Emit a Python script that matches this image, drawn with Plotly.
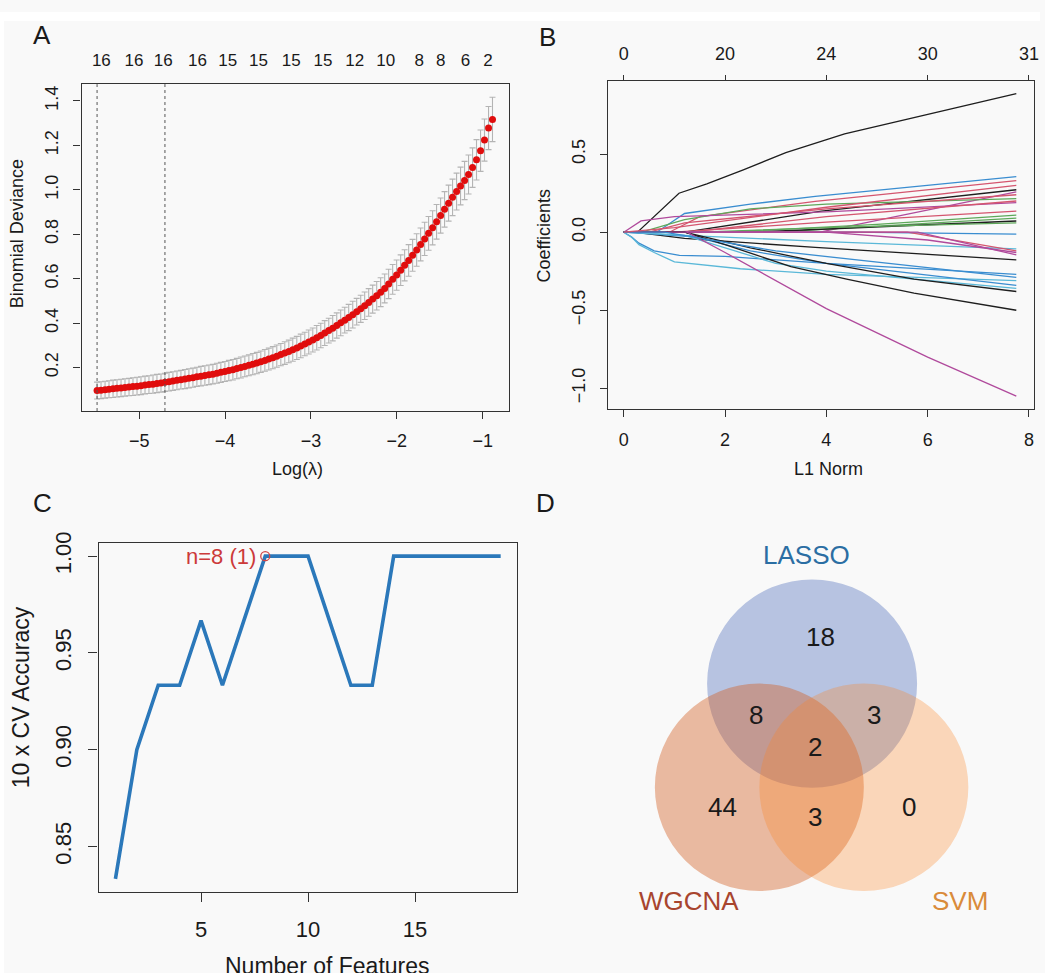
import plotly.graph_objects as go

W, H = 1045, 973
FONT = "Liberation Sans, Arial, sans-serif"
BG = "#f9f9f9"

# ---------------- Panel A data (cv.glmnet) ----------------
log_lambda = [-5.490, -5.444, -5.397, -5.351, -5.304, -5.258, -5.211, -5.165, -5.118, -5.072,
              -5.025, -4.979, -4.932, -4.886, -4.839, -4.793, -4.746, -4.700, -4.653, -4.607,
              -4.560, -4.514, -4.467, -4.421, -4.374, -4.328, -4.281, -4.235, -4.188, -4.142,
              -4.095, -4.049, -4.002, -3.956, -3.909, -3.863, -3.816, -3.770, -3.723, -3.677,
              -3.630, -3.584, -3.537, -3.491, -3.444, -3.398, -3.351, -3.305, -3.258, -3.212,
              -3.165, -3.119, -3.072, -3.026, -2.979, -2.933, -2.886, -2.840, -2.793, -2.747,
              -2.700, -2.654, -2.607, -2.561, -2.514, -2.468, -2.421, -2.375, -2.328, -2.282,
              -2.235, -2.189, -2.142, -2.096, -2.049, -2.003, -1.956, -1.910, -1.863, -1.817,
              -1.770, -1.724, -1.677, -1.631, -1.584, -1.538, -1.491, -1.445, -1.398, -1.352,
              -1.305, -1.259, -1.212, -1.166, -1.119, -1.073, -1.026, -0.980, -0.933, -0.887]
deviance = [0.096, 0.098, 0.100, 0.102, 0.104, 0.106, 0.108, 0.110, 0.112, 0.114,
            0.116, 0.118, 0.121, 0.123, 0.125, 0.128, 0.130, 0.133, 0.136, 0.139,
            0.142, 0.145, 0.148, 0.151, 0.154, 0.158, 0.161, 0.164, 0.167, 0.170,
            0.174, 0.178, 0.182, 0.186, 0.190, 0.195, 0.200, 0.205, 0.210, 0.215,
            0.220, 0.226, 0.232, 0.238, 0.244, 0.251, 0.258, 0.265, 0.272, 0.280,
            0.288, 0.297, 0.306, 0.315, 0.324, 0.334, 0.344, 0.355, 0.366, 0.377,
            0.389, 0.401, 0.413, 0.425, 0.438, 0.451, 0.464, 0.478, 0.493, 0.508,
            0.523, 0.539, 0.556, 0.576, 0.597, 0.616, 0.638, 0.660, 0.682, 0.705,
            0.729, 0.754, 0.779, 0.804, 0.829, 0.856, 0.884, 0.912, 0.940, 0.966,
            0.992, 1.017, 1.042, 1.069, 1.100, 1.135, 1.176, 1.224, 1.278, 1.317]
deviance_sd = [0.038, 0.038, 0.038, 0.038, 0.039, 0.039, 0.039, 0.039, 0.039, 0.040,
               0.040, 0.040, 0.040, 0.040, 0.041, 0.041, 0.041, 0.041, 0.042, 0.042,
               0.042, 0.042, 0.043, 0.043, 0.043, 0.043, 0.044, 0.044, 0.044, 0.044,
               0.045, 0.045, 0.045, 0.046, 0.046, 0.046, 0.047, 0.047, 0.047, 0.048,
               0.048, 0.048, 0.049, 0.049, 0.050, 0.050, 0.050, 0.051, 0.051, 0.052,
               0.052, 0.053, 0.053, 0.054, 0.054, 0.055, 0.055, 0.056, 0.056, 0.057,
               0.057, 0.058, 0.058, 0.059, 0.060, 0.060, 0.061, 0.062, 0.062, 0.063,
               0.064, 0.065, 0.065, 0.066, 0.067, 0.068, 0.069, 0.070, 0.071, 0.072,
               0.073, 0.074, 0.075, 0.076, 0.077, 0.078, 0.079, 0.080, 0.081, 0.082,
               0.083, 0.085, 0.086, 0.088, 0.089, 0.091, 0.093, 0.095, 0.097, 0.100]
lambda_min_log = -5.490
lambda_1se_log = -4.700
top_a_x = [-5.44, -5.06, -4.72, -4.32, -3.97, -3.61, -3.23, -2.86, -2.49, -2.13, -1.74, -1.49, -1.20, -0.94]
top_a_labels = ["16", "16", "16", "16", "15", "15", "15", "15", "12", "10", "8", "8", "6", "2"]

# ---------------- Panel B data (coefficient paths) ----------------
K, R, G, B, C, M = "#1e1e1e", "#d4566f", "#5ea85a", "#3a8dd0", "#5ab8d8", "#b04a9c"
path_colors = [K, B, R, K, M, G, R, M, R, R, G, G, K, G, B, C, R, M, M, K, B, C, B, C, K, K, M, B, R]
path_x = [
    [0, 0.27, 1.09, 1.64, 2.36, 3.2, 4.36, 7.75],
    [0, 0.65, 1.2, 2.5, 3.78, 7.75],
    [0, 0.9, 1.5, 3.78, 7.75],
    [0, 1.2, 3.9, 7.75],
    [0, 3.87, 7.75],
    [0, 0.35, 1.2, 2.5, 4.0, 7.75],
    [0, 0.5, 1.2, 4.0, 7.75],
    [0, 0.34, 1.0, 4.0, 7.75],
    [0, 1.3, 4.0, 7.75],
    [0, 1.0, 4.0, 7.75],
    [0, 2.0, 5.0, 7.75],
    [0, 3.0, 7.75],
    [0, 2.5, 7.75],
    [0, 1.5, 4.0, 7.75],
    [0, 4.5, 7.75],
    [0, 1.2, 4.0, 7.75],
    [0, 5.6, 7.75],
    [0, 4.0, 6.0, 7.75],
    [0, 5.8, 7.75],
    [0, 0.2, 1.2, 3.78, 7.75],
    [0, 0.15, 0.3, 0.6, 1.1, 2.0, 4.0, 7.75],
    [0, 0.15, 0.3, 0.6, 1.0, 2.3, 4.0, 7.75],
    [0, 1.4, 2.5, 4.0, 7.75],
    [0, 1.2, 3.0, 4.0, 7.75],
    [0, 1.2, 2.5, 4.0, 5.73, 7.75],
    [0, 1.2, 2.0, 3.3, 4.4, 5.73, 7.75],
    [0, 1.25, 2.0, 4.0, 6.0, 7.75],
    [0, 0.8, 3.0, 7.75],
    [0, 1.0, 4.0, 7.75],
]
path_y = [
    [0, 0, 0.25, 0.31, 0.40, 0.51, 0.63, 0.888],
    [0, 0, 0.12, 0.18, 0.23, 0.356],
    [0, 0, 0.10, 0.198, 0.331],
    [0, 0, 0.135, 0.272],
    [0, 0, 0.258],
    [0, 0, 0.08, 0.15, 0.18, 0.215],
    [0, 0, 0.06, 0.15, 0.24],
    [0, 0.072, 0.10, 0.13, 0.19],
    [0, 0, 0.10, 0.20],
    [0, 0, 0.065, 0.135],
    [0, 0, 0.05, 0.11],
    [0, 0, 0.09],
    [0, 0, 0.072],
    [0, 0, 0.03, 0.06],
    [0, 0, -0.012],
    [0, -0.02, -0.06, -0.107],
    [0, 0, -0.12],
    [0, 0, -0.05, -0.13],
    [0, 0, -0.145],
    [0, 0, -0.04, -0.097, -0.177],
    [0, -0.03, -0.07, -0.12, -0.148, -0.155, -0.20, -0.27],
    [0, -0.03, -0.08, -0.13, -0.19, -0.234, -0.27, -0.31],
    [0, -0.03, -0.12, -0.20, -0.34],
    [0, -0.02, -0.20, -0.25, -0.36],
    [0, 0, -0.10, -0.20, -0.30, -0.38],
    [0, 0, -0.08, -0.22, -0.30, -0.39, -0.50],
    [0, 0, -0.13, -0.49, -0.80, -1.05],
    [0, 0, -0.12, -0.29],
    [0, 0.03, 0.16, 0.30],
]
top_b_x = [0, 2, 4, 6, 8]
top_b_labels = ["0", "20", "24", "30", "31"]

# ---------------- Panel C data (SVM-RFE) ----------------
n_features = [1, 2, 3, 4, 5, 6, 7, 8, 9, 10, 11, 12, 13, 14, 15, 16, 17, 18, 19]
cv_accuracy = [0.8333, 0.9000, 0.9333, 0.9333, 0.9667, 0.9333, 0.9667, 1.0000, 1.0000, 1.0000,
               0.9667, 0.9333, 0.9333, 1.0000, 1.0000, 1.0000, 1.0000, 1.0000, 1.0000]
best_n = 8
best_label = "n=8 (1)"

# ---------------- Panel D data (Venn) ----------------
venn_sets = ["LASSO", "WGCNA", "SVM"]
venn_regions = ["LASSO", "LASSO&WGCNA", "LASSO&SVM", "ALL", "WGCNA", "WGCNA&SVM", "SVM"]
venn_counts = [18, 8, 3, 2, 44, 3, 0]


def px(x):
    return x / W


def py(y):
    return 1 - y / H


fig = go.Figure()

# Panel A
fig.add_trace(go.Scatter(
    x=log_lambda, y=deviance, mode="markers",
    marker=dict(color="#e00d0d", size=7, line=dict(width=0)),
    error_y=dict(type="data", array=deviance_sd, color="#b4b4b4", thickness=1.1, width=3),
    xaxis="x", yaxis="y", showlegend=False, hoverinfo="skip"))
fig.add_trace(go.Scatter(x=top_a_x, y=[None] * len(top_a_x), mode="markers",
                         xaxis="x2", yaxis="y", showlegend=False, hoverinfo="skip"))

# Panel B
for cx, cy, col in zip(path_x, path_y, path_colors):
    fig.add_trace(go.Scatter(x=cx, y=cy, mode="lines", line=dict(color=col, width=1.3),
                             xaxis="x3", yaxis="y2", showlegend=False, hoverinfo="skip"))
fig.add_trace(go.Scatter(x=top_b_x, y=[None] * len(top_b_x), mode="markers",
                         xaxis="x4", yaxis="y2", showlegend=False, hoverinfo="skip"))

# Panel C
fig.add_trace(go.Scatter(x=n_features, y=cv_accuracy, mode="lines",
                         line=dict(color="#2b78ba", width=3.6),
                         xaxis="x5", yaxis="y3", showlegend=False, hoverinfo="skip"))
fig.add_trace(go.Scatter(x=[best_n], y=[cv_accuracy[n_features.index(best_n)]], mode="markers",
                         marker=dict(symbol="circle-open", size=9, color="#d04545", line=dict(width=1.3)),
                         xaxis="x5", yaxis="y3", showlegend=False, hoverinfo="skip"))

# Panel D (invisible pixel axes)
fig.add_trace(go.Scatter(x=[None], y=[None], xaxis="x6", yaxis="y4", showlegend=False, hoverinfo="skip"))

frame = dict(showline=True, mirror=True, linecolor="#333333", linewidth=1.3, showgrid=False,
             zeroline=False, ticks="outside", tickcolor="#333333", tickwidth=1.2)

layout = dict(
    width=W, height=H, margin=dict(l=0, r=0, t=0, b=0),
    paper_bgcolor=BG, plot_bgcolor=BG, font=dict(family=FONT, color="#1a1a1a"),
    showlegend=False,
    # Panel A
    xaxis=dict(domain=[px(82), px(511)], range=[-5.67, -0.70], anchor="y",
               tickvals=[-5, -4, -3, -2, -1], ticklen=7, tickfont=dict(size=18),
               ticklabelstandoff=6, **frame),
    xaxis2=dict(overlaying="x", side="top", anchor="y", range=[-5.67, -0.70],
                tickvals=top_a_x, ticktext=top_a_labels, ticks="", showline=False,
                showgrid=False, zeroline=False, tickfont=dict(size=17), ticklabelstandoff=14),
    yaxis=dict(domain=[py(404), py(73)], range=[0.004, 1.476], anchor="x",
               tickvals=[0.2, 0.4, 0.6, 0.8, 1.0, 1.2, 1.4], ticktext=["0.2", "0.4", "0.6", "0.8", "1.0", "1.2", "1.4"],
               tickangle=-90, ticklen=7, tickfont=dict(size=18), ticklabelstandoff=8, **frame),
    # Panel B
    xaxis3=dict(domain=[px(611), px(1039)], range=[-0.31, 8.1], anchor="y2",
                tickvals=[0, 2, 4, 6, 8], ticklen=7, tickfont=dict(size=18),
                ticklabelstandoff=7, **frame),
    xaxis4=dict(overlaying="x3", side="top", anchor="y2", range=[-0.31, 8.1],
                tickvals=top_b_x, ticktext=top_b_labels, ticks="outside", ticklen=5,
                tickcolor="#333333", showline=False, showgrid=False, zeroline=False,
                tickfont=dict(size=18), ticklabelstandoff=8),
    yaxis2=dict(domain=[py(402), py(70)], range=[-1.133, 0.968], anchor="x3",
                tickvals=[-1.0, -0.5, 0.0, 0.5], ticktext=["\u22121.0", "\u22120.5", "0.0", "0.5"],
                tickangle=-90, ticklen=7, tickfont=dict(size=18), ticklabelstandoff=8, **frame),
    # Panel C
    xaxis5=dict(domain=[px(99), px(519)], range=[0.21, 19.74], anchor="y3",
                tickvals=[5, 10, 15], ticklen=9, tickfont=dict(size=22),
                ticklabelstandoff=8, **frame),
    yaxis3=dict(domain=[py(891), py(538)], range=[0.8265, 1.0066], anchor="x5",
                tickvals=[0.85, 0.90, 0.95, 1.00], ticktext=["0.85", "0.90", "0.95", "1.00"],
                tickangle=-90, ticklen=9, tickfont=dict(size=22), ticklabelstandoff=9, **frame),
    # Panel D
    xaxis6=dict(domain=[px(540), 1], range=[540, 1045], anchor="y4", visible=False),
    yaxis4=dict(domain=[0, py(480)], range=[973, 480], anchor="x6", visible=False),
)
fig.update_layout(**layout)

shapes = []
# white strips at the top and left edge of the image
shapes.append(dict(type="rect", xref="paper", yref="paper", x0=0, x1=1, y0=py(9), y1=1,
                   fillcolor="white", line=dict(width=0), layer="below"))
shapes.append(dict(type="rect", xref="paper", yref="paper", x0=0, x1=px(4), y0=0, y1=1,
                   fillcolor="white", line=dict(width=0), layer="below"))
for xv in [lambda_min_log, lambda_1se_log]:
    shapes.append(dict(type="line", xref="x", yref="y domain", x0=xv, x1=xv, y0=0, y1=1,
                       line=dict(color="#555555", width=1, dash="dot")))
venn_geom = [(816, 680, 105.5, "rgba(102,129,196,0.45)"),
             (763, 785, 105, "rgba(209,89,27,0.40)"),
             (868, 785, 105, "rgba(252,132,36,0.30)")]
for cx, cy, r, fc in venn_geom:
    shapes.append(dict(type="circle", xref="x6", yref="y4", x0=cx - r, x1=cx + r, y0=cy - r, y1=cy + r,
                       fillcolor=fc, line=dict(width=0)))
fig.update_layout(shapes=shapes)

ann = []


def add_text(text, x, y, size, color="#1a1a1a", angle=0, xanchor="center"):
    ann.append(dict(text=text, x=px(x), y=py(y), xref="paper", yref="paper", showarrow=False,
                    font=dict(size=size, color=color, family=FONT), textangle=angle,
                    xanchor=xanchor, yanchor="middle"))


# panel letters
add_text("A", 42, 23, 26)
add_text("B", 550, 25, 26)
add_text("C", 43, 497, 26)
add_text("D", 548, 497, 26)
# axis titles
add_text("Log(\u03bb)", 299, 463, 18)
add_text("Binomial Deviance", 17, 224, 18, angle=-90)
add_text("L1 Norm", 832, 463, 18)
add_text("Coefficients", 547, 226, 18, angle=-90)
add_text("Number of Features", 329, 966, 23)
add_text("10 x CV Accuracy", 22, 694, 23, angle=-90)

# Panel C best label
ann.append(dict(text=best_label, x=best_n, y=cv_accuracy[n_features.index(best_n)], xref="x5", yref="y3",
                showarrow=False, xanchor="right", yanchor="middle", xshift=-7,
                font=dict(size=22, color="#cc3a3a", family=FONT)))

# Venn texts
set_label_pos = {"LASSO": (810, 550, "#2b6ea3"), "WGCNA": (692, 900, "#a8452e"), "SVM": (965, 900, "#d98b3a")}
for s in venn_sets:
    x, y, c = set_label_pos[s]
    add_text(s, x, y, 26, color=c)
region_pos = {"LASSO": (824, 633), "LASSO&WGCNA": (760, 712), "LASSO&SVM": (878, 712), "ALL": (819, 744),
              "WGCNA": (726, 805), "WGCNA&SVM": (819, 815), "SVM": (913, 805)}
for reg, cnt in zip(venn_regions, venn_counts):
    x, y = region_pos[reg]
    add_text(str(cnt), x, y, 26)

fig.update_layout(annotations=ann)

post_js = ("document.body.style.margin='0';document.body.style.overflow='hidden';"
           "var gd=document.getElementById('{plot_id}');"
           "gd.style.position='absolute';gd.style.left='0px';gd.style.top='0px';")
fig.write_html("out.html", post_script=post_js, config={"displayModeBar": False})
